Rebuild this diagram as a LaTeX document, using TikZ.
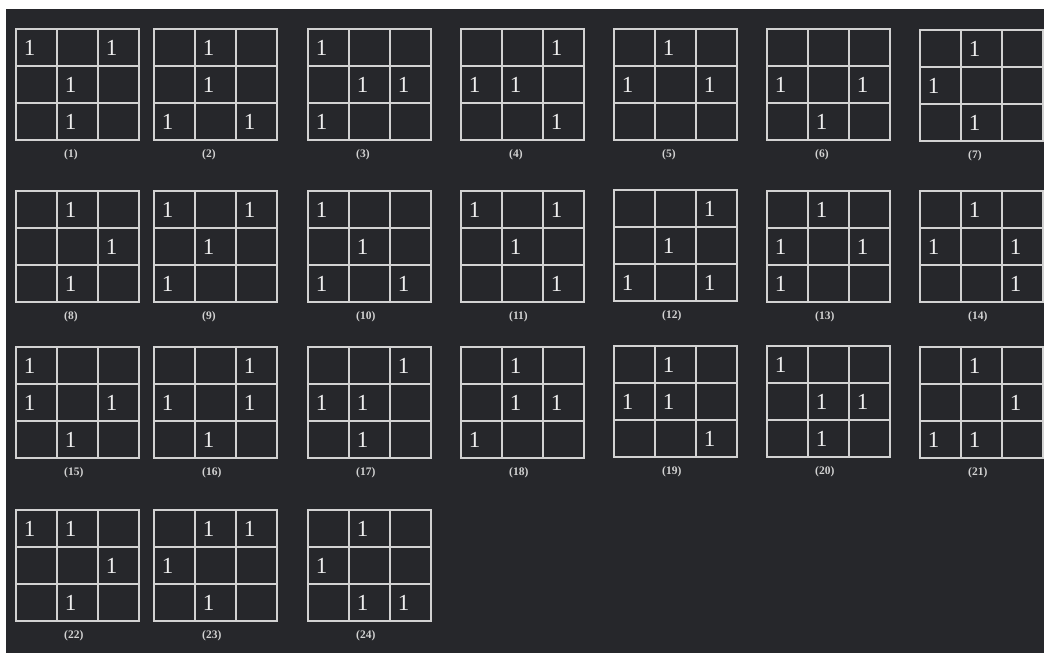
\documentclass[tikz,border=0pt]{standalone}
\usepackage{fontspec}
\setmainfont{Liberation Serif}
\usepackage{xcolor}
\usepackage{tikz}
\usetikzlibrary{positioning}
\definecolor{bgdark}{HTML}{26272B}
\definecolor{chalk}{HTML}{D2D2D2}
\definecolor{chalkdigit}{HTML}{EDEDED}
\tikzset{
  gridline/.style={chalk,line width=1.6pt},
  one/.style={chalkdigit,inner sep=0pt,font=\fontsize{23}{23}\selectfont},
  lab/.style={chalk,inner sep=0pt,anchor=west,font=\fontsize{11.5}{12}\selectfont\bfseries}
}
% one 3x3 grid: x, y (top left), cells holding a 1 (row/col), number
\newcommand{\onegrid}[4]{%
\begin{scope}[shift={(#1,#2)}]
\draw[gridline] (0,0) rectangle (123,111) (41,0) -- (41,111) (82,0) -- (82,111)
  (0,37) -- (123,37) (0,74) -- (123,74);
\foreach \r/\c in {#3} \node[one] (g#4-\r-\c) at ({41*(\c-1)+13.5},{37*(\r-0.5)}) {1};
\node[lab] (lab#4) at (48,126) {(#4)};
\end{scope}}

\begin{document}
\begin{tikzpicture}[x=1pt,y=-1pt]
\useasboundingbox (0,0) rectangle (1044,653);
\clip (0,0) rectangle (1044,653);
\fill[white] (0,0) rectangle (1044,653);
\fill[bgdark] (6,9) rectangle (1044,653);
% row 1
\onegrid{16}{29}{1/1,1/3,2/2,3/2}{1}
\onegrid{154}{29}{1/2,2/2,3/1,3/3}{2}
\onegrid{308}{29}{1/1,2/2,2/3,3/1}{3}
\onegrid{461}{29}{1/3,2/1,2/2,3/3}{4}
\onegrid{614}{29}{1/2,2/1,2/3}{5}
\onegrid{767}{29}{2/1,2/3,3/2}{6}
\onegrid{920}{30}{1/2,2/1,3/2}{7}
% row 2
\onegrid{16}{191}{1/2,2/3,3/2}{8}
\onegrid{154}{191}{1/1,1/3,2/2,3/1}{9}
\onegrid{308}{191}{1/1,2/2,3/1,3/3}{10}
\onegrid{461}{191}{1/1,1/3,2/2,3/3}{11}
\onegrid{614}{190}{1/3,2/2,3/1,3/3}{12}
\onegrid{767}{191}{1/2,2/1,2/3,3/1}{13}
\onegrid{920}{191}{1/2,2/1,2/3,3/3}{14}
% row 3
\onegrid{16}{347}{1/1,2/1,2/3,3/2}{15}
\onegrid{154}{347}{1/3,2/1,2/3,3/2}{16}
\onegrid{308}{347}{1/3,2/1,2/2,3/2}{17}
\onegrid{461}{347}{1/2,2/2,2/3,3/1}{18}
\onegrid{614}{346}{1/2,2/1,2/2,3/3}{19}
\onegrid{767}{346}{1/1,2/2,2/3,3/2}{20}
\onegrid{920}{347}{1/2,2/3,3/1,3/2}{21}
% row 4
\onegrid{16}{510}{1/1,1/2,2/3,3/2}{22}
\onegrid{154}{510}{1/2,1/3,2/1,3/2}{23}
\onegrid{308}{510}{1/2,2/1,3/2,3/3}{24}
\end{tikzpicture}
\end{document}
